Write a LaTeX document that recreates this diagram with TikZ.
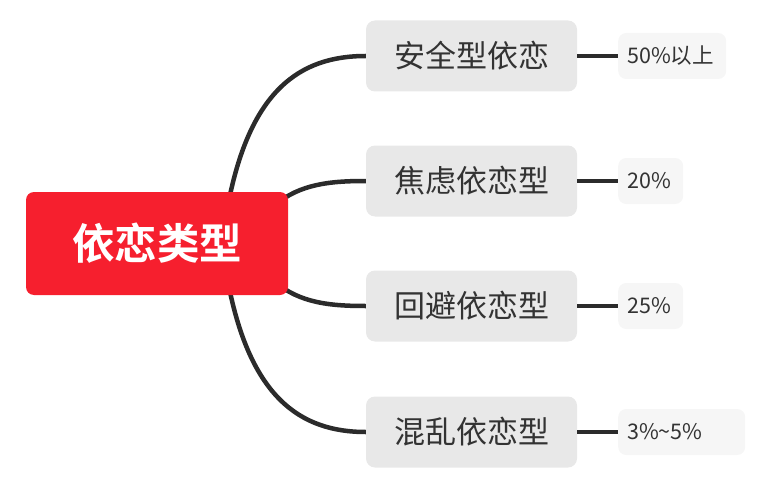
\documentclass[tikz,border=0pt]{standalone}
\usepackage{fontspec}
\setmainfont{Noto Sans CJK SC}
\newfontfamily\cjk{Noto Sans CJK SC}
\newfontfamily\cjkbold{Noto Sans CJK SC Bold}
\definecolor{rootred}{HTML}{F61F2E}
\definecolor{branchgray}{HTML}{E8E8E8}
\definecolor{leafgray}{HTML}{F6F6F6}
\definecolor{inkdark}{HTML}{333333}
\definecolor{linedark}{HTML}{2B2B2B}
\tikzset{
  rootbox/.style={fill=rootred, rounded corners=8pt, minimum width=262pt, minimum height=103pt, text=white, font=\cjkbold\fontsize{42.5}{46}\selectfont, inner sep=0pt},
  branchbox/.style={fill=branchgray, rounded corners=9pt, minimum width=211pt, minimum height=71pt, text=inkdark, font=\cjk\fontsize{31}{34}\selectfont, inner sep=0pt},
  leafbox/.style={fill=leafgray, rounded corners=8pt, minimum height=46pt, text=inkdark, inner sep=0pt, anchor=west},
  leaftext/.style={anchor=west, text=inkdark, font=\cjk\fontsize{21.5}{24}\selectfont, inner sep=0pt},
  conn/.style={draw=linedark, line width=4.5pt}
}
\begin{document}
\begin{tikzpicture}[x=1pt,y=-1pt]
\useasboundingbox (0,0) rectangle (776,500);
% branches
\node[branchbox] (b1) at (471.5,56) {安全型依恋};
\node[branchbox] (b2) at (471.5,181) {焦虑依恋型};
\node[branchbox] (b3) at (471.5,306) {回避依恋型};
\node[branchbox] (b4) at (471.5,432) {混乱依恋型};
% leaves
\node[leafbox, minimum width=108pt] (l1) at (618,56) {};
\node[leafbox, minimum width=65pt] (l2) at (618,181) {};
\node[leafbox, minimum width=65pt] (l3) at (618,306) {};
\node[leafbox, minimum width=127pt] (l4) at (618,432) {};
\node[leaftext] (t1) at (627,56) {50\%以上};
\node[leaftext] (t2) at (627,181) {20\%};
\node[leaftext] (t3) at (627,306) {25\%};
\node[leaftext] (t4) at (627,432) {3\%\textasciitilde 5\%};
% root anchor points for curves
\coordinate (r1) at (228,205);
\coordinate (r2) at (275,205);
\coordinate (r3) at (275,282);
\coordinate (r4) at (228,282);
\draw[conn] (r1) .. controls (250,90) and (300,56) .. (b1.west);
\draw[conn] (r2) .. controls (300,184) and (330,181) .. (b2.west);
\draw[conn] (r3) .. controls (300,303) and (330,306) .. (b3.west);
\draw[conn] (r4) .. controls (250,397) and (300,432) .. (b4.west);
\draw[conn] (b1.east) -- (l1.west);
\draw[conn] (b2.east) -- (l2.west);
\draw[conn] (b3.east) -- (l3.west);
\draw[conn] (b4.east) -- (l4.west);
% root on top
\node[rootbox] (root) at (157,243.5) {依恋类型};
\end{tikzpicture}
\end{document}
